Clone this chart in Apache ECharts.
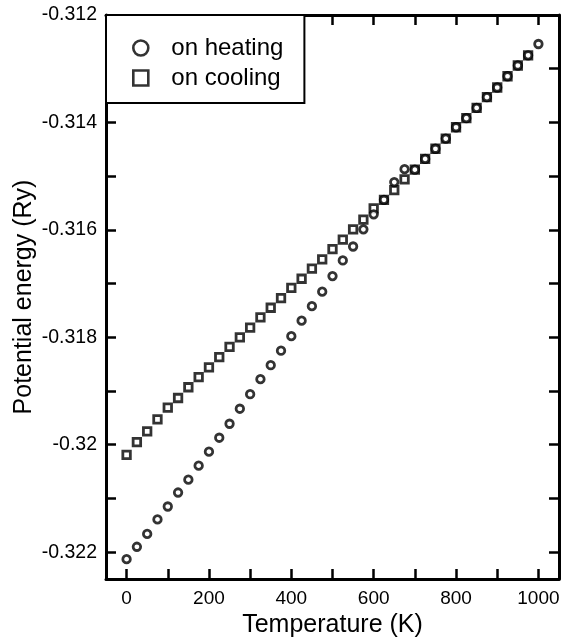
<!DOCTYPE html>
<html>
<head>
<meta charset="utf-8">
<script src="https://cdn.jsdelivr.net/npm/echarts@6/dist/echarts.min.js"></script>
<style>
  html, body { margin: 0; padding: 0; background: #fff; }
  #chart { width: 563px; height: 637px; }
</style>
</head>
<body>
<div id="chart"></div>
<script>
// Temperature grid (K), 25 K steps
const temps = [0, 25, 50, 75, 100, 125, 150, 175, 200, 225, 250, 275, 300, 325, 350, 375, 400,
  425, 450, 475, 500, 525, 550, 575, 600, 625, 650, 675, 700, 725, 750, 775, 800,
  825, 850, 875, 900, 925, 950, 975, 1000]

// Potential energy (Ry) on heating, 0..1000 K
const heating = [-0.32213, -0.32190, -0.32166, -0.32139, -0.32115, -0.32089, -0.32065, -0.32039,
  -0.32013, -0.31987, -0.31961, -0.31933, -0.31906, -0.31878, -0.31852, -0.31825, -0.31798,
  -0.31769, -0.31742, -0.31715, -0.31686, -0.31657, -0.31631, -0.31599, -0.31571, -0.31544,
  -0.31511, -0.31487, -0.31488, -0.31468, -0.31449, -0.31430, -0.31409, -0.31392, -0.31373,
  -0.31353, -0.31335, -0.31314, -0.31294, -0.31275, -0.31254]

// Potential energy (Ry) on cooling, 0..975 K
const cooling = [-0.32019, -0.31995, -0.31975, -0.31953, -0.31931, -0.31913, -0.31893, -0.31874,
  -0.31856, -0.31837, -0.31818, -0.31800, -0.31782, -0.31763, -0.31745, -0.31727, -0.31708,
  -0.31691, -0.31672, -0.31655, -0.31636, -0.31618, -0.31599, -0.31581, -0.31560, -0.31544,
  -0.31526, -0.31506, -0.31488, -0.31468, -0.31449, -0.31430, -0.31409, -0.31392, -0.31373,
  -0.31353, -0.31335, -0.31314, -0.31294, -0.31275]

const xTicks = [0, 100, 200, 300, 400, 500, 600, 700, 800, 900, 1000]
const xLabels = [0, 200, 400, 600, 800, 1000]
const yTicks = [-0.322, -0.321, -0.32, -0.319, -0.318, -0.317, -0.316, -0.315, -0.314, -0.313, -0.312]
const yLabels = [-0.322, -0.32, -0.318, -0.316, -0.314, -0.312]

const font = 'Liberation Sans, Arial, Helvetica, sans-serif'
const frame = { show: true, onZero: false, lineStyle: { color: '#000', width: 3 } }
const ticks = (vals) => ({
  show: true, inside: true, length: 10, customValues: vals,
  lineStyle: { color: '#000', width: 2.5 },
})

const chart = echarts.init(document.getElementById('chart'), null, { renderer: 'canvas' })

chart.setOption({
  animation: false,
  backgroundColor: '#fff',
  grid: { left: 106, right: 4, top: 15, bottom: 58, containLabel: false, outerBoundsMode: 'none' },
  legend: {
    data: ['on heating', 'on cooling'],
    orient: 'vertical',
    left: 106,
    top: 15,
    padding: [21, 21, 13, 26],
    itemWidth: 15,
    itemHeight: 15,
    itemGap: 6,
    backgroundColor: '#fff',
    borderColor: '#000',
    borderWidth: 2,
    borderRadius: 0,
    itemStyle: { borderWidth: 2.6 },
    textStyle: { color: '#000', fontSize: 24, fontFamily: font, padding: [0, 0, 0, 18] },
  },
  xAxis: [
    {
      type: 'value', min: -50, max: 1050,
      name: 'Temperature (K)', nameLocation: 'middle', nameGap: 23,
      nameTextStyle: { color: '#000', fontSize: 25, fontFamily: font },
      axisLine: frame,
      axisTick: ticks(xTicks),
      axisLabel: {
        customValues: xLabels, color: '#000', fontSize: 19, fontFamily: font, margin: 10,
        formatter: (v) => String(v),
      },
      splitLine: { show: false },
    },
    {
      type: 'value', position: 'top', min: -50, max: 1050,
      axisLine: frame,
      axisTick: ticks(xTicks),
      axisLabel: { show: false },
      splitLine: { show: false },
    },
  ],
  yAxis: [
    {
      type: 'value', min: -0.3225, max: -0.312,
      name: 'Potential energy (Ry)', nameLocation: 'middle', nameGap: 69,
      nameMoveOverlap: false,
      nameTextStyle: { color: '#000', fontSize: 25, fontFamily: font },
      axisLine: frame,
      axisTick: ticks(yTicks),
      axisLabel: {
        customValues: yLabels, color: '#000', fontSize: 19.5, fontFamily: font, margin: 9,
        formatter: (v) => String(+v.toFixed(3)),
      },
      splitLine: { show: false },
    },
    {
      type: 'value', position: 'right', min: -0.3225, max: -0.312,
      axisLine: frame,
      axisTick: ticks(yTicks),
      axisLabel: { show: false },
      splitLine: { show: false },
    },
  ],
  series: [
    {
      name: 'on cooling',
      type: 'scatter',
      symbol: 'rect',
      symbolSize: 7.5,
      data: cooling.map((v, i) => [temps[i], v]),
      itemStyle: { color: '#fff', borderColor: '#000', borderWidth: 2.8 },
      z: 2,
    },
    {
      name: 'on heating',
      type: 'scatter',
      symbol: 'circle',
      symbolSize: 7.5,
      data: heating.map((v, i) => [temps[i], v]),
      itemStyle: { color: '#fff', borderColor: '#000', borderWidth: 2.8 },
      z: 3,
    },
  ],
})
</script>
</body>
</html>
